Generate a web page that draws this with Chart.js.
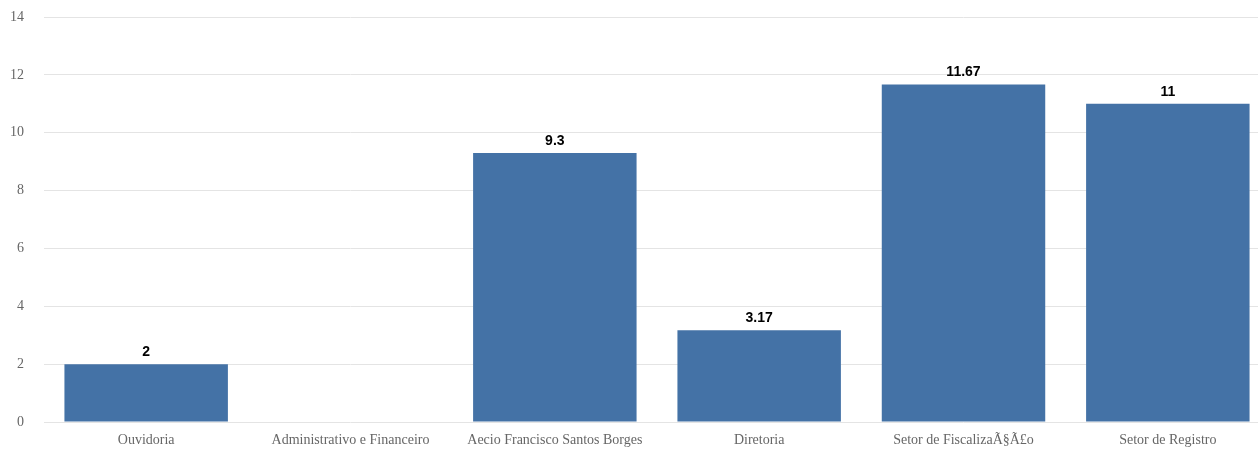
<!DOCTYPE html>
<html>
<head>
<meta charset="utf-8">
<script src="https://cdn.jsdelivr.net/npm/chart.js"></script>
<style>
  html, body { margin: 0; padding: 0; background: #fff; overflow: hidden; }
  #wrap { width: 1270px; height: 449px; }
</style>
</head>
<body>
<div id="wrap"><canvas id="chart"></canvas></div>
<script>
// data
const categories = [
    "Ouvidoria",
    "Administrativo e Financeiro",
    "Aecio Francisco Santos Borges",
    "Diretoria",
    "Setor de FiscalizaÃ§Ã£o",
    "Setor de Registro"
];
const values = [2, null, 9.3, 3.17, 11.67, 11];
const yTicks = [0, 2, 4, 6, 8, 10, 12, 14];

// draw the value above each bar
const barLabels = {
    id: 'barLabels',
    afterDatasetsDraw(chart) {
        const ctx = chart.ctx;
        const meta = chart.getDatasetMeta(0);
        ctx.save();
        ctx.font = 'bold 14px "Liberation Sans", Arial, sans-serif';
        ctx.fillStyle = '#000';
        ctx.textAlign = 'center';
        ctx.textBaseline = 'bottom';
        meta.data.forEach((bar, i) => {
            const v = values[i];
            if (v === null || v === undefined) return;
            ctx.fillText(String(v), bar.x, bar.y - 5);
        });
        ctx.restore();
    }
};

const tickFont = { family: '"Liberation Serif", "Times New Roman", serif', size: 14 };

new Chart(document.getElementById('chart'), {
    type: 'bar',
    data: {
        labels: categories,
        datasets: [{
            data: values,
            backgroundColor: '#4472A6',
            borderWidth: 0,
            barPercentage: 0.8,
            categoryPercentage: 1
        }]
    },
    options: {
        responsive: true,
        maintainAspectRatio: false,
        animation: false,
        layout: { padding: 0 },
        plugins: {
            legend: { display: false },
            tooltip: { enabled: false }
        },
        scales: {
            x: {
                afterFit(axis) {
                    axis.height = 27;
                },
                grid: { display: false, drawTicks: false },
                border: { display: false },
                ticks: {
                    color: '#666',
                    font: tickFont,
                    padding: 10,
                    maxRotation: 0,
                    autoSkip: false
                }
            },
            y: {
                min: 0,
                max: 14,
                afterBuildTicks(axis) {
                    axis.ticks = yTicks.map(v => ({ value: v }));
                },
                afterFit(axis) {
                    axis.width = 44;
                    axis.paddingTop = 17;
                    axis.paddingBottom = 0;
                },
                grid: { color: '#e4e4e4', drawTicks: false, lineWidth: 1 },
                border: { display: false },
                ticks: {
                    color: '#666',
                    font: tickFont,
                    padding: 20
                }
            }
        }
    },
    plugins: [barLabels]
});
</script>
</body>
</html>
